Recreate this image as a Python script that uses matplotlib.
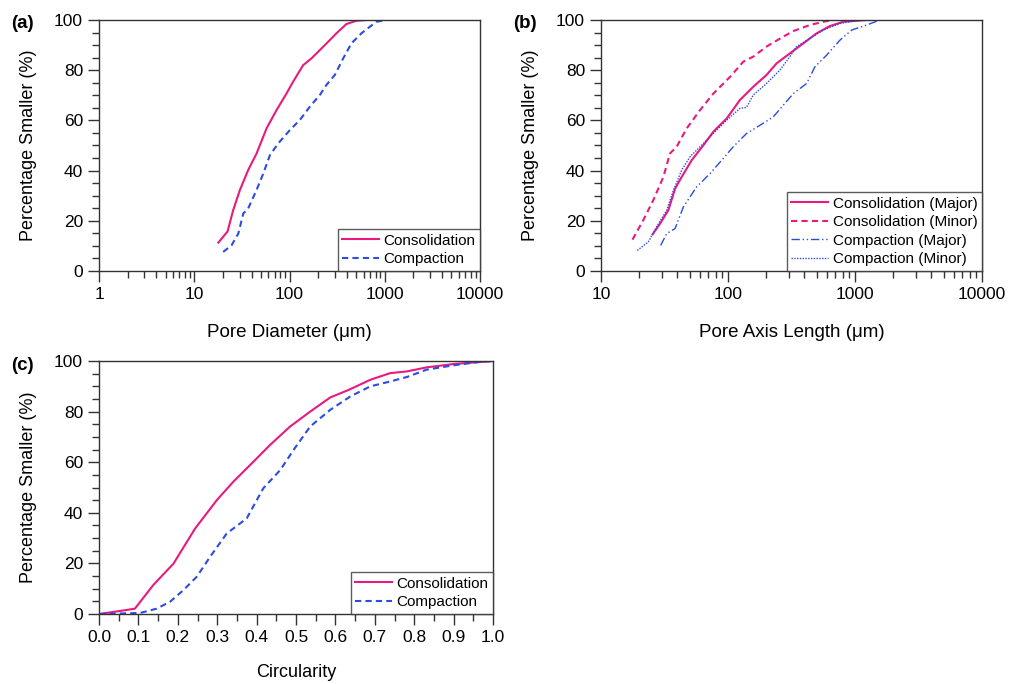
import matplotlib
matplotlib.use("Agg")
import matplotlib.pyplot as plt
from matplotlib.ticker import FixedLocator, FixedFormatter, MultipleLocator, LogLocator, NullFormatter

plt.rcParams['font.family'] = ['Liberation Sans', 'DejaVu Sans']

PINK = '#e8197f'
BLUE = '#2b4be3'

# Panel (a): pore diameter
a_cons_x = [17.9, 22.4, 25.6, 30.1, 36.8, 45.1, 57.4, 73.1, 93, 109, 139, 170, 208, 265, 311, 396, 504, 643]
a_cons_y = [11.3, 15.8, 24.2, 32.2, 40.2, 46.8, 56.8, 64.1, 70.7, 75.4, 82, 84.7, 88, 92, 94.7, 98.4, 99.7, 100]
a_comp_x = [20.1, 24.6, 29, 32.7, 36.8, 45, 53, 62.2, 76, 100.7, 128, 163, 208, 244, 299, 366, 447, 569, 697, 818, 1040]
a_comp_y = [7.6, 10.2, 14.9, 22.9, 24.9, 32.2, 38.8, 46.1, 50.8, 56.1, 60.1, 65.4, 70.1, 74.1, 78.1, 84.7, 90.7, 94.7, 97.3, 99.3, 100]

# Panel (b): pore axis length
b_cons_major_x = [25.5, 29.2, 33.9, 38.3, 43.2, 51.7, 64, 76.7, 97.7, 124, 158, 201, 241, 307, 392, 499, 635, 809, 1236, 1574]
b_cons_major_y = [14.6, 18.9, 24.2, 32.8, 37.5, 44.1, 50.1, 55.5, 60.8, 68.1, 73.4, 78.1, 82.7, 86.7, 90.7, 94.7, 97.6, 99.3, 100, 100]
b_cons_minor_x = [17.7, 21.5, 25.8, 31, 34.9, 39.4, 47.3, 60.2, 76.7, 104, 132, 158, 201, 273, 327, 442, 563, 675]
b_cons_minor_y = [12.5, 20.2, 28.2, 37.5, 46.8, 49.5, 56.8, 64.1, 70.7, 77.4, 83.4, 85.4, 89.4, 93.4, 95.6, 98, 99.3, 100]
b_comp_major_x = [29.5, 32.9, 38.3, 44.5, 56.6, 72.1, 89.1, 110, 140, 179, 227, 273, 327, 416, 484, 598, 762, 941, 1236, 1574]
b_comp_major_y = [10.2, 14.9, 16.9, 25.5, 33.5, 38.8, 44.1, 49.5, 54.8, 58.1, 61.4, 66.1, 70.7, 74.7, 81.4, 86, 92, 96, 98, 100]
b_comp_minor_x = [19.3, 23.6, 27.4, 32.9, 37.2, 43.2, 50.2, 60.2, 76.7, 97.7, 124, 140, 158, 201, 257, 307, 347, 442, 563, 762, 1094]
b_comp_minor_y = [8.2, 11.6, 17.6, 24.2, 32.2, 40.2, 45.5, 49.5, 54.8, 60.1, 64.8, 65.2, 70.1, 74.7, 80.1, 85.4, 89.4, 92.7, 96, 98.6, 100]

# Panel (c): circularity
c_cons_x = [0, 0.045, 0.091, 0.138, 0.189, 0.244, 0.299, 0.341, 0.392, 0.434, 0.485, 0.536, 0.587, 0.634, 0.689, 0.739, 0.782, 0.832, 0.900, 1.0]
c_cons_y = [0, 1, 2.1, 11.5, 19.9, 33.8, 45, 52.3, 60.2, 66.8, 74.1, 80, 85.6, 88.6, 92.6, 95.2, 95.9, 97.5, 98.8, 100]
c_comp_x = [0, 0.104, 0.146, 0.180, 0.214, 0.248, 0.282, 0.324, 0.375, 0.417, 0.460, 0.494, 0.536, 0.587, 0.638, 0.689, 0.739, 0.782, 0.832, 0.900, 0.968, 1.0]
c_comp_y = [0, 0.4, 2.1, 4.8, 9.4, 14.7, 22.6, 31.8, 37.8, 49.7, 56.9, 64.9, 74.1, 80.7, 86, 90, 91.9, 93.7, 96.6, 98.3, 99.7, 100]

W, H = 1010, 684
fig = plt.figure(figsize=(W / 100, H / 100), dpi=100)

def rect(l, t, r, b):
    return [l / W, 1 - b / H, (r - l) / W, (b - t) / H]

ax_a = fig.add_axes(rect(99, 20, 480, 271))
ax_b = fig.add_axes(rect(601, 20, 982, 271))
ax_c = fig.add_axes(rect(99, 361, 493, 614))

FS = 12.5
LFS = 11

def style(ax):
    for s in ax.spines.values():
        s.set_linewidth(1.0)
        s.set_color('#333333')
    ax.set_ylim(0, 100)
    ax.yaxis.set_major_locator(MultipleLocator(20))
    ax.yaxis.set_minor_locator(MultipleLocator(5))
    ax.tick_params(which='major', direction='out', length=8, width=1.0, labelsize=FS, color='#333333')
    ax.tick_params(which='minor', direction='out', length=5, width=1.0, color='#333333')
    ax.tick_params(top=False, right=False, which='both')
    ax.set_ylabel('Percentage Smaller (%)', fontsize=FS + 0.5, labelpad=12)

def logx(ax, lo, hi, labels):
    ax.set_xscale('log')
    ax.set_xlim(lo, hi)
    vals = [float(v) for v in labels]
    ax.xaxis.set_major_locator(FixedLocator(vals))
    ax.xaxis.set_major_formatter(FixedFormatter(labels))
    ax.xaxis.set_minor_locator(LogLocator(base=10, subs=range(2, 10)))
    ax.xaxis.set_minor_formatter(NullFormatter())

lw = 1.5
# (a)
ax_a.plot(a_cons_x, a_cons_y, color=PINK, lw=lw, label='Consolidation')
ax_a.plot(a_comp_x, a_comp_y, color=BLUE, lw=lw, ls=(0, (3, 2)), label='Compaction')
style(ax_a)
logx(ax_a, 1, 10000, ['1', '10', '100', '1000', '10000'])
ax_a.set_xlabel('Pore Diameter (\u03bcm)', fontsize=FS + 1, labelpad=16)

# (b)
ax_b.plot(b_cons_major_x, b_cons_major_y, color=PINK, lw=lw, label='Consolidation (Major)')
ax_b.plot(b_cons_minor_x, b_cons_minor_y, color=PINK, lw=lw, ls=(0, (3, 2)), label='Consolidation (Minor)')
ax_b.plot(b_comp_major_x, b_comp_major_y, color=BLUE, lw=1.0, ls=(0, (6, 2, 1, 2, 1, 2)), label='Compaction (Major)')
ax_b.plot(b_comp_minor_x, b_comp_minor_y, color=BLUE, lw=1.0, ls=(0, (1, 1)), label='Compaction (Minor)')
style(ax_b)
logx(ax_b, 10, 10000, ['10', '100', '1000', '10000'])
ax_b.set_xlabel('Pore Axis Length (\u03bcm)', fontsize=FS + 1, labelpad=16)

# (c)
ax_c.plot(c_cons_x, c_cons_y, color=PINK, lw=lw, label='Consolidation')
ax_c.plot(c_comp_x, c_comp_y, color=BLUE, lw=lw, ls=(0, (3, 2)), label='Compaction')
style(ax_c)
ax_c.set_xlim(0, 1)
ax_c.xaxis.set_major_locator(MultipleLocator(0.1))
ax_c.xaxis.set_minor_locator(MultipleLocator(0.05))
ax_c.xaxis.set_major_formatter(plt.FuncFormatter(lambda v, p: f'{v:.1f}'))
ax_c.set_xlabel('Circularity', fontsize=FS + 0.5, labelpad=14)

for ax in (ax_a, ax_b, ax_c):
    leg = ax.legend(loc='lower right', fontsize=LFS, frameon=True, fancybox=False,
                    borderaxespad=0, borderpad=0.3, labelspacing=0.3,
                    handlelength=2.4, handletextpad=0.3)
    leg.get_frame().set_edgecolor('#333333')
    leg.get_frame().set_linewidth(1.0)

fig.text(11 / W, 1 - 24 / H, '(a)', fontsize=13.5, fontweight='bold', va='center')
fig.text(513 / W, 1 - 24 / H, '(b)', fontsize=13.5, fontweight='bold', va='center')
fig.text(11 / W, 1 - 366 / H, '(c)', fontsize=13.5, fontweight='bold', va='center')

fig.savefig('out.png', dpi=100)
